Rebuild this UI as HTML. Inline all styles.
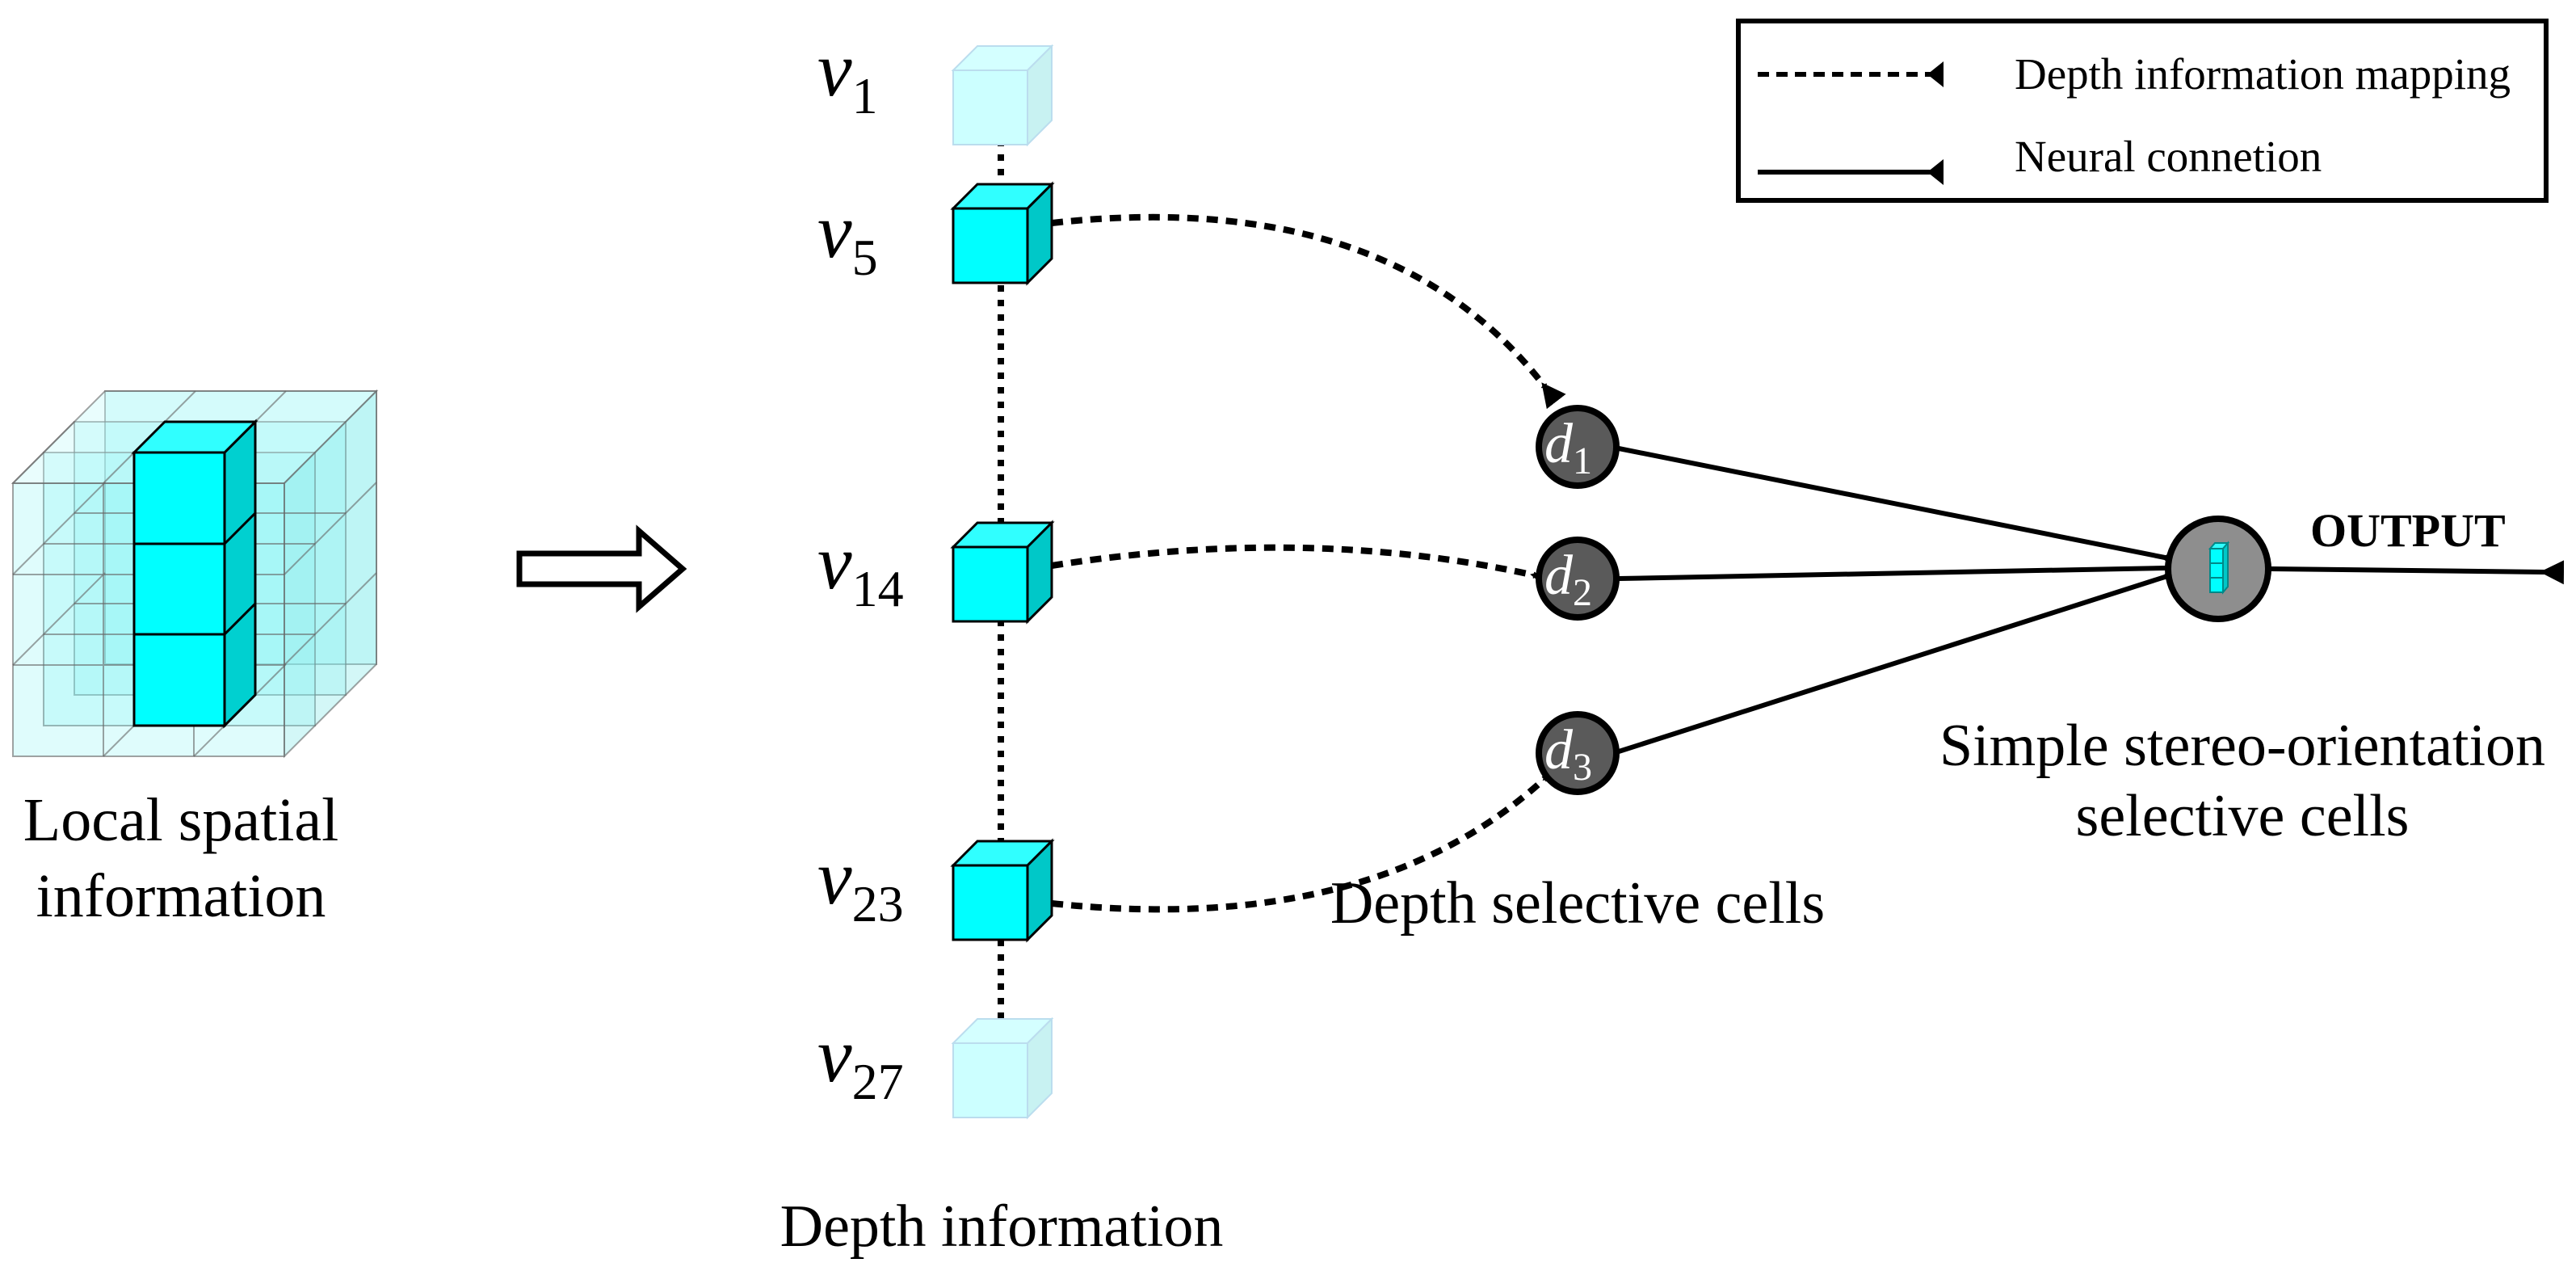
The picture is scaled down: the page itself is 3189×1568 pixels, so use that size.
<!DOCTYPE html>
<html><head><meta charset="utf-8"><style>
html,body{margin:0;padding:0;background:#fff}
svg{display:block}
text{font-family:"Liberation Serif","Times New Roman",serif;fill:#000}
</style></head><body>
<svg width="3189" height="1568" viewBox="0 0 3189 1568" xmlns="http://www.w3.org/2000/svg">
<defs>
<marker id="tri" viewBox="0 0 10 10" refX="2" refY="5" markerWidth="30" markerHeight="32" markerUnits="userSpaceOnUse" orient="auto">
<path d="M0,5 L10,0 L10,10 Z" fill="#000"/></marker>
</defs>
<g stroke="#666" stroke-width="2" stroke-opacity="0.6">
<g fill="#7ff5f5" fill-opacity="0.25">
<rect x="130" y="484" width="336" height="338"/>
<rect x="92" y="522" width="336" height="338"/>
<rect x="54" y="560" width="336" height="338"/>
<rect x="16" y="598" width="336" height="338"/>
</g>
<path d="M16,598 L130,484 L466,484 L352,598 Z" fill="#bffafa" fill-opacity="0.35"/>
<path d="M352,598 L466,484 L466,822 L352,936 Z" fill="#80e8e8" fill-opacity="0.35"/>
<g fill="none">
<path d="M128,598 V936 M240,598 V936 M16,711 H352 M16,823 H352"/>
<path d="M166,560 V898 M278,560 V898 M54,673 H390 M54,785 H390"/>
<path d="M204,522 V860 M316,522 V860 M92,635 H428 M92,747 H428"/>
<path d="M54,560 L16,598 M92,522 L54,560 M128,598 L242,484 M240,598 L354,484 M352,711 L466,597 M352,823 L466,709"/>
<path d="M16,711 L130,597 M16,823 L130,709 M128,936 L242,822 M240,936 L354,822"/>
</g>
</g>
<g stroke="#000" stroke-width="3">
<path d="M278,560 L316,522 L316,860 L278,898 Z" fill="#00d0d0"/>
<path d="M166,560 L204,522 L316,522 L278,560 Z" fill="#30ffff"/>
<rect x="166" y="560" width="112" height="338" fill="#00ffff"/>
<path d="M166,673 H278 L316,635 M166,785 H278 L316,747" fill="none"/>
</g>
<text x="224" y="1040" font-size="76" text-anchor="middle">Local spatial</text>
<text x="224" y="1134" font-size="76" text-anchor="middle">information</text>
<path d="M643,685 H791 V657 L845,704 L791,751 V723 H643 Z" fill="#fff" stroke="#000" stroke-width="7"/>
<line x1="1239" y1="155" x2="1239" y2="1260" stroke="#000" stroke-width="8" stroke-dasharray="8 10"/>
<g>
<g transform="translate(1180,57)" stroke="#bde" stroke-width="2">
<path d="M0,30 L30,0 H122 L92,30 Z" fill="#d4ffff"/><path d="M92,30 L122,0 V92 L92,122 Z" fill="#c8f2f2"/><rect x="0" y="30" width="92" height="92" fill="#ccffff"/></g>
<g transform="translate(1180,1261)" stroke="#bde" stroke-width="2">
<path d="M0,30 L30,0 H122 L92,30 Z" fill="#d4ffff"/><path d="M92,30 L122,0 V92 L92,122 Z" fill="#c8f2f2"/><rect x="0" y="30" width="92" height="92" fill="#ccffff"/></g>
<g stroke="#000" stroke-width="3">
<g transform="translate(1180,228)"><path d="M0,30 L30,0 H122 L92,30 Z" fill="#30ffff"/><path d="M92,30 L122,0 V92 L92,122 Z" fill="#00c8c8"/><rect x="0" y="30" width="92" height="92" fill="#00ffff"/></g>
<g transform="translate(1180,647)"><path d="M0,30 L30,0 H122 L92,30 Z" fill="#30ffff"/><path d="M92,30 L122,0 V92 L92,122 Z" fill="#00c8c8"/><rect x="0" y="30" width="92" height="92" fill="#00ffff"/></g>
<g transform="translate(1180,1041)"><path d="M0,30 L30,0 H122 L92,30 Z" fill="#30ffff"/><path d="M92,30 L122,0 V92 L92,122 Z" fill="#00c8c8"/><rect x="0" y="30" width="92" height="92" fill="#00ffff"/></g>
</g>
</g>
<g font-size="96" font-style="italic">
<text x="1012" y="118">v<tspan font-style="normal" font-size="64" dy="22">1</tspan></text>
<text x="1012" y="318">v<tspan font-style="normal" font-size="64" dy="22">5</tspan></text>
<text x="1012" y="728">v<tspan font-style="normal" font-size="64" dy="22">14</tspan></text>
<text x="1012" y="1118">v<tspan font-style="normal" font-size="64" dy="22">23</tspan></text>
<text x="1012" y="1338">v<tspan font-style="normal" font-size="64" dy="22">27</tspan></text>
</g>
<g fill="none" stroke="#000" stroke-width="8" stroke-dasharray="14 10">
<path d="M1302,276 Q1720,230 1912,478" marker-end="url(#tri)"/>
<path d="M1302,700 Q1620,650 1900,712" marker-end="url(#tri)"/>
<path d="M1302,1118 Q1700,1160 1914,962" marker-end="url(#tri)"/>
</g>
<g stroke="#000" stroke-width="6" fill="none">
<path d="M2004,555 L2680,690" marker-end="url(#tri)"/>
<path d="M2004,716 L2680,703" marker-end="url(#tri)"/>
<path d="M2004,930 L2680,714" marker-end="url(#tri)"/>
<path d="M2811,704 L3150,708" marker-end="url(#tri)"/>
</g>
<g stroke="#000" stroke-width="8" fill="#5a5a5a">
<circle cx="1953" cy="553" r="48"/>
<circle cx="1953" cy="716" r="48"/>
<circle cx="1953" cy="932" r="48"/>
</g>
<g font-size="70" font-style="italic">
<text x="1912" y="572" style="fill:#fff">d<tspan font-style="normal" font-size="48" dy="14" style="fill:#fff">1</tspan></text>
<text x="1912" y="735" style="fill:#fff">d<tspan font-style="normal" font-size="48" dy="14" style="fill:#fff">2</tspan></text>
<text x="1912" y="951" style="fill:#fff">d<tspan font-style="normal" font-size="48" dy="14" style="fill:#fff">3</tspan></text>
</g>
<circle cx="2746" cy="704" r="62" fill="#8e8e8e" stroke="#000" stroke-width="8"/>
<g stroke="#088" stroke-width="2">
<path d="M2736,679 L2742,672 H2758 L2752,679 Z" fill="#30ffff"/>
<path d="M2752,679 L2758,672 V726 L2752,733 Z" fill="#00c8c8"/>
<rect x="2736" y="679" width="16" height="18" fill="#00ffff"/>
<rect x="2736" y="697" width="16" height="18" fill="#00ffff"/>
<rect x="2736" y="715" width="16" height="18" fill="#00ffff"/>
</g>
<text x="2860" y="676" font-size="58" font-weight="bold">OUTPUT</text>
<g font-size="74" text-anchor="middle">
<text x="1953" y="1142">Depth selective cells</text>
<text x="1240" y="1542">Depth information</text>
<text x="2776" y="947">Simple stereo-orientation</text>
<text x="2776" y="1034">selective cells</text>
</g>
<rect x="2152" y="26" width="1000" height="222" fill="#fff" stroke="#000" stroke-width="6"/>
<line x1="2176" y1="92" x2="2396" y2="92" stroke="#000" stroke-width="6" stroke-dasharray="14 9"/>
<path d="M2386,92 L2406,76 L2406,108 Z" fill="#000"/>
<line x1="2176" y1="213" x2="2396" y2="213" stroke="#000" stroke-width="6"/>
<path d="M2386,213 L2406,197 L2406,229 Z" fill="#000"/>
<text x="2494" y="110" font-size="55">Depth information mapping</text>
<text x="2494" y="212" font-size="55">Neural connetion</text>
</svg>
</body></html>
